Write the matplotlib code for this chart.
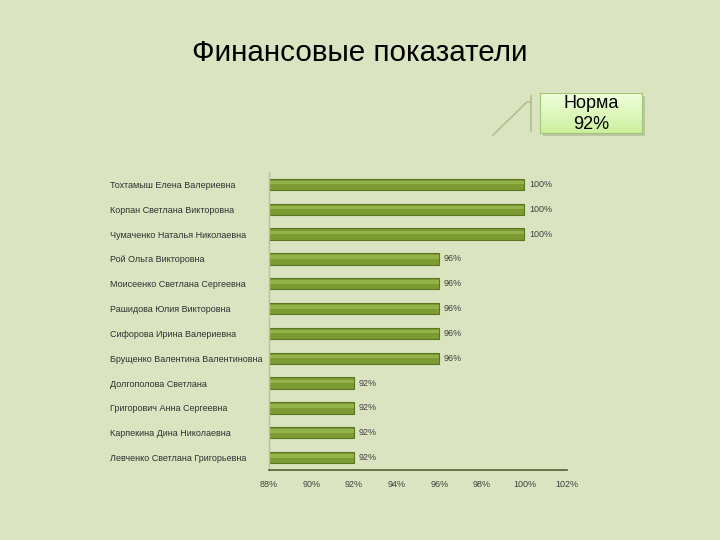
import matplotlib
matplotlib.use("Agg")
import matplotlib.pyplot as plt
from matplotlib.patches import Rectangle
from matplotlib.lines import Line2D
import numpy as np

names = [
    "Тохтамыш Елена Валериевна",
    "Корпан Светлана Викторовна",
    "Чумаченко Наталья Николаевна",
    "Рой Ольга Викторовна",
    "Моисеенко Светлана Сергеевна",
    "Рашидова Юлия Викторовна",
    "Сифорова Ирина Валериевна",
    "Брущенко Валентина Валентиновна",
    "Долгополова Светлана",
    "Григорович Анна Сергеевна",
    "Карпекина Дина Николаевна",
    "Левченко Светлана Григорьевна",
]
values = [100, 100, 100, 96, 96, 96, 96, 96, 92, 92, 92, 92]
xticks = [88, 90, 92, 94, 96, 98, 100, 102]
title = "Финансовые показатели"
norm_label = "Норма\n92%"

bg = "#dbe4c0"
W, H = 720, 540
fig = plt.figure(figsize=(7.2, 5.4), dpi=100, facecolor=bg)
ax = fig.add_axes([269 / W, 1 - 470 / H, (567 - 269) / W, (470 - 172) / H])
ax.set_facecolor(bg)

y = np.arange(len(names))
ax.barh(y, [v - 88 for v in values], left=88, height=0.46,
        color="#7c9b33", edgecolor="#5b7620", linewidth=0.8)
# highlight strip for a slight gradient effect
ax.barh(y - 0.07, [v - 88 for v in values], left=88, height=0.14,
        color="#93b348", linewidth=0)

for yi, v in zip(y, values):
    ax.text(v + 0.22, yi, f"{v}%", va="center", ha="left",
            fontsize=6.5, color="#404040", family="Liberation Sans")

ax.set_xlim(88, 102)
ax.set_ylim(len(names) - 0.5, -0.5)
ax.set_xticks(xticks)
ax.set_xticklabels([f"{t}%" for t in xticks], fontsize=6.5, color="#404040",
                   family="Liberation Sans")
ax.set_yticks(y)
ax.set_yticklabels(names, fontsize=6.5, color="#303030", family="Liberation Sans")
ax.tick_params(axis="both", length=0)
ax.tick_params(axis="x", pad=7)
for lab in ax.get_yticklabels():
    lab.set_horizontalalignment("left")
ax.tick_params(axis="y", pad=(269 - 110) * 72 / 100)

for s in ["top", "right"]:
    ax.spines[s].set_visible(False)
ax.spines["left"].set_color("#b4c49a")
ax.spines["left"].set_linewidth(1.0)
ax.spines["bottom"].set_color("#4f6030")
ax.spines["bottom"].set_linewidth(1.2)

fig.text(360 / W, 1 - 53 / H, title, ha="center", va="center",
         fontsize=21.3, family="Liberation Sans", color="#000000")

# callout
def fx(px):
    return px / W

def fy(py):
    return 1 - py / H

lc = "#aebf8c"
fig.add_artist(Line2D([fx(493), fx(527), fx(531)], [fy(135), fy(102), fy(102)],
                      transform=fig.transFigure, color=lc, lw=1.2))
fig.add_artist(Line2D([fx(531), fx(531)], [fy(96), fy(131)],
                      transform=fig.transFigure, color=lc, lw=1.2))
# shadow
shadow = Rectangle((fx(543), fy(136)), fx(102), 40 / H,
                   transform=fig.transFigure, facecolor="#bcc7a4",
                   edgecolor="none", zorder=-1)
fig.add_artist(shadow)
# gradient box
x0, x1, y0, y1 = 540, 642, 93, 133
grad = np.linspace(0, 1, 50).reshape(-1, 1)
top = np.array([0.94, 1.00, 0.86])
bot = np.array([0.80, 0.94, 0.62])
img = top[None, None, :] * (1 - grad[:, :, None]) + bot[None, None, :] * grad[:, :, None]
iax = fig.add_axes([fx(x0), fy(y1), (x1 - x0) / W, (y1 - y0) / H])
iax.imshow(img, aspect="auto", extent=[0, 1, 0, 1])
iax.set_xticks([])
iax.set_yticks([])
for s in iax.spines.values():
    s.set_color("#a6c37c")
    s.set_linewidth(0.8)
fig.text(fx(591), fy(114), norm_label, ha="center", va="center",
         fontsize=13, family="Liberation Sans", color="#000000",
         linespacing=1.3, zorder=5)

fig.savefig("out.png", dpi=100, facecolor=bg)
